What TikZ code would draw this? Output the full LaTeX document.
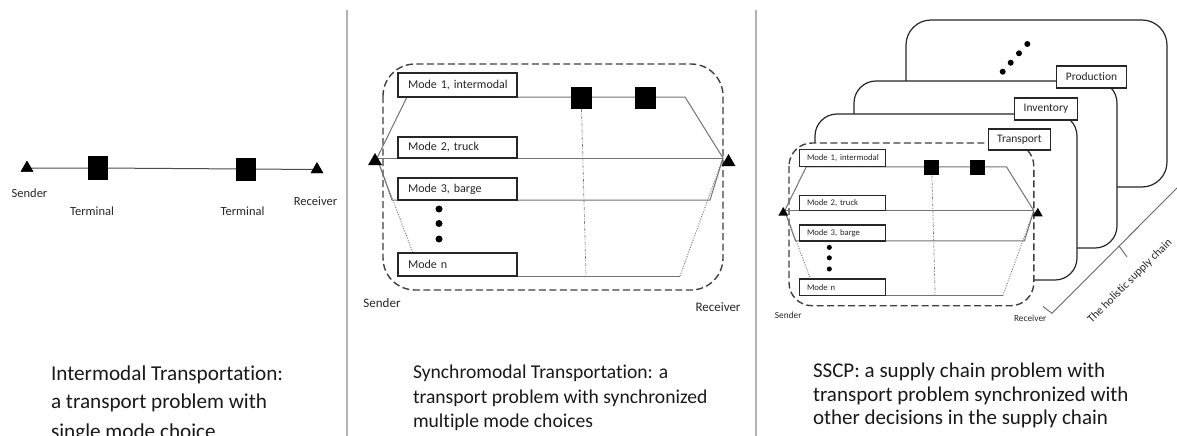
\documentclass[tikz,border=0pt]{standalone}
\usepackage{fontspec}
\setmainfont{Carlito}[Ligatures={NoCommon,NoContextual}]
\usetikzlibrary{shapes.geometric}

\def\framerad{32pt}

\tikzset{
  every node/.style={inner sep=0pt, outer sep=0pt},
  route/.style={draw=black!55, line width=1pt},
  dotroute/.style={draw=black!55, line width=0.9pt, dash pattern=on 1pt off 1.5pt},
  link/.style={draw=black!50, line width=0.7pt, dash pattern=on 3pt off 1.5pt on 1pt off 1.5pt},
  frame/.style={draw=black!75, line width=1.4pt, dash pattern=on 7pt off 3.5pt, fill=white, rounded corners=\framerad},
  modebox/.style={draw=black!85, line width=1.2pt, fill=white, text width=99pt, inner xsep=10pt,
    align=left, font=\fontsize{12}{14}\selectfont, text=black!85},
  term/.style={fill=black, minimum width=21pt, minimum height=22pt},
  tri/.style={regular polygon, regular polygon sides=3, fill=black, minimum size=16pt},
  lbl/.style={font=\fontsize{13}{15}\selectfont, text=black!85},
  layer/.style={draw=black!85, line width=1.2pt, fill=white},
  tag/.style={draw=black!85, line width=1.2pt, fill=white, minimum height=22pt, inner xsep=9pt,
    font=\fontsize{11.5}{13}\selectfont, text=black!85},
  sep/.style={draw=black!30, line width=2pt},
  caption/.style={anchor=base west, text=black!90},
  synchro/.pic={
    % dashed frame around the mode choices
    \draw[frame] (0,0) rectangle (340,226);
    \coordinate (S) at (-6,94);
    \coordinate (R) at (340,94);
    % routes from sender to receiver
    \draw[route] (S) -- (24,33) -- (302,33) -- (R);
    \draw[route] (S) -- (R);
    \draw[route] (S) -- (9,136) -- (327,136) -- (R);
    \draw[dotroute] (S) -- (30,189);
    \coordinate (n1) at (134,212);
    \coordinate (n2) at (297,212);
    \draw[route] (n1) -- (n2);
    \draw[dotroute] (n2) -- (R);
    % mode labels
    \node[modebox, minimum height=24pt] (m1) at (74.5,21) {\mbox{Mode 1, intermodal}};
    \node[modebox, minimum height=21pt] (m2) at (74.5,83.5) {\mbox{Mode 2, truck}};
    \node[modebox, minimum height=22pt] (m3) at (74.5,125) {\mbox{Mode 3, barge}};
    \node[modebox, minimum height=23pt] (mn) at (74.5,200.5) {\mbox{Mode n}};
    % terminals on the intermodal route
    \node[term] (t1) at (198.5,34) {};
    \node[term] (t2) at (262,34) {};
    \coordinate (tb) at (203,212);
    \draw[link] (t1.south) -- (tb);
    % ellipsis between mode 3 and mode n
    \fill (56,145) circle[radius=3.5];
    \fill (56,159.5) circle[radius=3.5];
    \fill (56,175) circle[radius=3.5];
    % end points
    \node[tri] (snd) at (-8,97) {};
    \node[tri] (rcv) at (345.5,98) {};
    \node[lbl] (sl) at (-1,239) {Sender};
    \node[lbl] (rl) at (335,243) {Receiver};
  }
}

\begin{document}
\begin{tikzpicture}[x=1pt, y=-1pt]
\useasboundingbox (0,0) rectangle (1177,436);
\clip (0,0) rectangle (1177,436);

% panel separators
\coordinate (sa1) at (346.7,10);
\coordinate (sa2) at (346.7,436);
\coordinate (sb1) at (756,10);
\coordinate (sb2) at (756,436);
\draw[sep] (sa1) -- (sa2);
\draw[sep, line width=1.6pt] (sb1) -- (sb2);

% ---------- intermodal transportation ----------
\node[tri, minimum size=14.5pt] (ls) at (27,168) {};
\node[term, minimum width=20pt, minimum height=24pt] (lt1) at (98,168) {};
\node[term, minimum width=20pt, minimum height=23pt] (lt2) at (246,169) {};
\node[tri, minimum size=14.5pt] (lr) at (317,169.5) {};
\draw[draw=black!70, line width=1pt] (ls.center) -- (lt1) -- (lt2) -- (lr.center);
\node[tri, minimum size=14.5pt] at (27,168) {};
\node[tri, minimum size=14.5pt] at (317,169.5) {};
\node[lbl, font=\fontsize{12.5}{14}\selectfont] (lsl) at (29.5,193) {Sender};
\node[lbl, font=\fontsize{12.5}{14}\selectfont] (lt1l) at (92,211) {Terminal};
\node[lbl, font=\fontsize{12.5}{14}\selectfont] (lt2l) at (242.5,211) {Terminal};
\node[lbl, font=\fontsize{12.5}{14}\selectfont] (lrl) at (315.5,201) {Receiver};

% ---------- synchromodal transportation ----------
\pic (mid) at (383,64) {synchro};

% ---------- synchronized supply chain ----------
\draw[layer, rounded corners=25pt] (906,20) rectangle (1167,187);
\fill (1002.7,71.7) circle[radius=3];
\fill (1010.7,62.7) circle[radius=3];
\fill (1019,53.3) circle[radius=3];
\fill (1027.3,44) circle[radius=3];
\draw[layer, rounded corners=22pt] (854,81) rectangle (1117,248);
\node[tag] (prod) at (1091.5,77) {Production};
\draw[layer, rounded corners=22pt] (815,114) rectangle (1077,280);
\node[tag] (inv) at (1046,109) {Inventory};
\def\framerad{23pt}
\pic[scale=0.72, transform shape] (rt) at (789,143) {synchro};
\node[tag, minimum height=21pt] (tra) at (1019.5,139.5) {Transport};

% bracket spanning the stacked decisions
\coordinate (bk0) at (1043,306.5);
\coordinate (bk1) at (1052,313.3);
\coordinate (bk2) at (1178,187);
\coordinate (bm0) at (1119,246);
\coordinate (bm1) at (1127,257);
\draw[draw=black!60, line width=0.9pt] (bk0) -- (bk1) -- (bk2);
\draw[draw=black!60, line width=0.9pt] (bm0) -- (bm1);
\node[rotate=45, font=\fontsize{11.5}{13}\selectfont, text=black!85] (hsc) at (1130,281) {The holistic supply chain};

% ---------- captions ----------
\begin{scope}[font=\fontsize{21.2}{24}\selectfont]
\node[caption] (c11) at (51,380) {Intermodal Transportation:};
\node[caption] (c12) at (51,408) {a transport problem with};
\node[caption] (c13) at (51,438) {single mode choice};
\end{scope}
\begin{scope}[font=\fontsize{19.6}{24}\selectfont]
\node[caption] (c21) at (413,378) {Synchromodal Transportation: a};
\node[caption] (c22) at (413,403) {transport problem with synchronized};
\node[caption] (c23) at (413,427) {multiple mode choices};
\end{scope}
\begin{scope}[font=\fontsize{21}{24}\selectfont]
\node[caption] (c31) at (813,377) {SSCP: a supply chain problem with};
\node[caption] (c32) at (813,401) {transport problem synchronized with};
\node[caption] (c33) at (813,424) {other decisions in the supply chain};
\end{scope}
\end{tikzpicture}
\end{document}
